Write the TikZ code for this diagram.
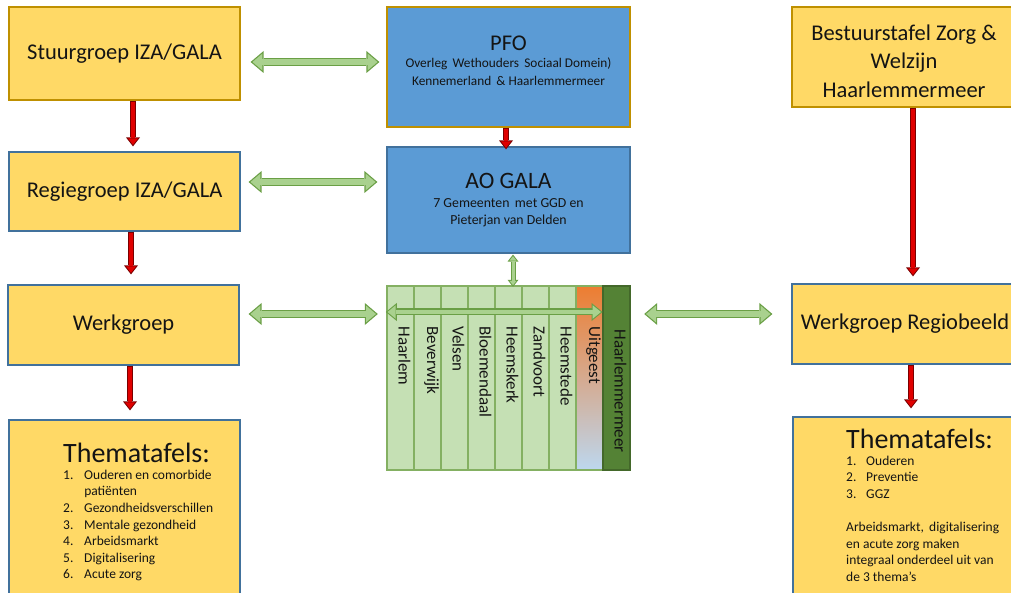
\documentclass[tikz,border=0pt]{standalone}
\usepackage{fontspec}
\setmainfont{Carlito}
\usetikzlibrary{arrows.meta,calc}

\definecolor{boxyellow}{HTML}{FFD966}
\definecolor{boxgold}{HTML}{BF9000}
\definecolor{boxblue}{HTML}{5B9BD5}
\definecolor{edgeblue}{HTML}{41719C}
\definecolor{arrowred}{HTML}{E00000}
\definecolor{arrowdark}{HTML}{7A0000}
\definecolor{greenfill}{HTML}{A9D18E}
\definecolor{greenedge}{HTML}{6A9F45}
\definecolor{townfill}{HTML}{C5E0B4}
\definecolor{townedge}{HTML}{84B062}
\definecolor{meerfill}{HTML}{548235}
\definecolor{orangetop}{HTML}{ED7D31}
\definecolor{mauvemid}{HTML}{CDB8C0}
\definecolor{bluebottom}{HTML}{BDD7EE}
\definecolor{textgrey}{HTML}{141414}

\newcommand{\thematitle}{\fontsize{28}{34}\selectfont}

\tikzset{
	box/.style={rectangle, fill=boxyellow, draw=edgeblue, line width=1.2pt, inner sep=0pt, align=center, text=textgrey, font=\fontsize{22.5}{28.5}\selectfont},
	goldbox/.style={box, draw=boxgold},
	bluebox/.style={box, fill=boxblue},
	listtext/.style={inner sep=0pt, text=textgrey, font=\fontsize{13.5}{16.6}\selectfont},
	town/.style={rectangle, fill=townfill, draw=townedge, line width=1.2pt, minimum width=27, minimum height=184, inner sep=0pt},
	townlabel/.style={rotate=-90, anchor=west, inner sep=0pt, text=textgrey, font=\fontsize{17}{20}\selectfont},
	rout/.style={draw=arrowdark, line width=6pt, -{Triangle[width=14pt,length=9pt,line width=0pt]}},
	rin/.style={draw=arrowred, line width=4pt, -{Triangle[width=9.9pt,length=6.4pt,line width=0pt]}, shorten <=1pt, shorten >=1.6pt},
	gout/.style={draw=greenedge, line width=8pt, {Triangle[width=22pt,length=13pt,line width=0pt]}-{Triangle[width=22pt,length=13pt,line width=0pt]}},
	gin/.style={draw=greenfill, line width=5.6pt, {Triangle[width=16.8pt,length=9.9pt,line width=0pt]}-{Triangle[width=16.8pt,length=9.9pt,line width=0pt]}, shorten <=1.9pt, shorten >=1.9pt},
	gmidout/.style={draw=greenedge, line width=7pt, {Triangle[width=18pt,length=11pt,line width=0pt]}-{Triangle[width=18pt,length=11pt,line width=0pt]}},
	gmidin/.style={draw=greenfill, line width=4.8pt, {Triangle[width=13.4pt,length=8.2pt,line width=0pt]}-{Triangle[width=13.4pt,length=8.2pt,line width=0pt]}, shorten <=1.7pt, shorten >=1.7pt},
	gsout/.style={draw=greenedge, line width=5pt, {Triangle[width=11pt,length=7pt,line width=0pt]}-{Triangle[width=11pt,length=7pt,line width=0pt]}},
	gsin/.style={draw=greenfill, line width=3pt, {Triangle[width=6.9pt,length=4.4pt,line width=0pt]}-{Triangle[width=6.9pt,length=4.4pt,line width=0pt]}, shorten <=1.6pt, shorten >=1.6pt}
}

\begin{document}
\begin{tikzpicture}[x=1pt,y=-1pt]
	\clip (0,0) rectangle (1011,593);
	\fill[white] (0,0) rectangle (1011,593);

	% left column
	\node[goldbox, minimum width=231, minimum height=93] (stuur) at (124.5,53.5) {Stuurgroep IZA/GALA};
	\node[box, minimum width=231, minimum height=79] (regie) at (124.5,191.5) {Regiegroep IZA/GALA};
	\node[box, minimum width=231, minimum height=80] (werk) at (123.5,325) {Werkgroep};
	\node[box, minimum width=231, minimum height=200] (themal) at (124.5,520) {};
	\node[listtext, anchor=north west] (themaltxt) at (63,443) {\begin{tabular}{@{}l@{\hspace{10.8pt}}l@{}}
		\multicolumn{2}{@{}l@{}}{\thematitle Thematafels:}\\
		1. & Ouderen en comorbide\\
		 & patiënten\\
		2. & Gezondheidsverschillen\\
		3. & Mentale gezondheid\\
		4. & Arbeidsmarkt\\
		5. & Digitalisering\\
		6. & Acute zorg
	\end{tabular}};

	% middle column
	\node[bluebox, draw=boxgold, minimum width=243, minimum height=120] (pfo) at (508.5,67) {};
	\node[listtext, align=center, font=\fontsize{13.3}{17.5}\selectfont] (pfotxt) at (508.5,60.5) {{\fontsize{22.5}{26}\selectfont PFO}\\ Overleg\, Wethouders\, Sociaal Domein)\\ Kennemerland\, \& Haarlemmermeer};
	\node[bluebox, minimum width=243, minimum height=106, font=\fontsize{13.8}{16.5}\selectfont] (ao) at (508.5,200) {{\fontsize{23.5}{26}\selectfont AO GALA}\\[3pt] 7 Gemeenten\, met GGD en\\ Pieterjan van Delden};

	\node[minimum width=243, minimum height=184, inner sep=0pt] (muni) at (508.5,378) {};
	\foreach \town [count=\i] in {Haarlem,Beverwijk,Velsen,Bloemendaal,Heemskerk,Zandvoort,Heemstede}{
		\node[town] (col\i) at ({373.5+27*\i},378) {};
		\node[townlabel] at ($(col\i.north)+(4,41)$) {\town};
	}
	\node[town, top color=orangetop, middle color=mauvemid, bottom color=bluebottom, shading angle=0] (uitgeest) at (589.5,378) {};
	\node[townlabel] at ($(uitgeest.north)+(4,41)$) {Uitgeest};
	\node[town, fill=meerfill, draw=meerfill!80!black] (meer) at (616.5,378) {};
	\node[townlabel] at ($(meer.north)+(4,44)$) {Haarlemmermeer};

	% right column
	\node[goldbox, minimum width=224, minimum height=100] (bestuur) at (904,57) {};
	\node[box, draw=none, fill=none] (bestuurtxt) at (904,61) {Bestuurstafel Zorg \&\\ Welzijn\\ Haarlemmermeer};
	\node[box, minimum width=226, minimum height=80] (werkregio) at (905,324) {Werkgroep Regiobeeld};
	\node[box, minimum width=227, minimum height=203] (themar) at (906.5,518.5) {};
	\node[listtext, anchor=north west] (themartxt) at (846,429) {\begin{tabular}{@{}l@{\hspace{9.8pt}}l@{}}
		\multicolumn{2}{@{}l@{}}{\thematitle Thematafels:}\\
		1. & Ouderen\\
		2. & Preventie\\
		3. & GGZ\\
		\multicolumn{2}{@{}l@{}}{}\\
		\multicolumn{2}{@{}l@{}}{Arbeidsmarkt,\, digitalisering}\\
		\multicolumn{2}{@{}l@{}}{en acute zorg maken}\\
		\multicolumn{2}{@{}l@{}}{integraal onderdeel uit van}\\
		\multicolumn{2}{@{}l@{}}{de 3 thema’s}
	\end{tabular}};

	% red arrows
	\draw[rout] ($(stuur.south)+(8.5,0)$) -- ($(regie.north)+(8.5,-5)$);
	\draw[rin] ($(stuur.south)+(8.5,0)$) -- ($(regie.north)+(8.5,-5)$);
	\draw[rout] ($(regie.south)+(6.5,0)$) -- ($(werk.north)+(7.5,-10)$);
	\draw[rin] ($(regie.south)+(6.5,0)$) -- ($(werk.north)+(7.5,-10)$);
	\draw[rout] ($(werk.south)+(6.5,0)$) -- ($(themal.north)+(5.5,-9)$);
	\draw[rin] ($(werk.south)+(6.5,0)$) -- ($(themal.north)+(5.5,-9)$);
	\draw[rout] ($(pfo.south)+(-2.5,0)$) -- ($(ao.north)+(-2.5,3)$);
	\draw[rin] ($(pfo.south)+(-2.5,0)$) -- ($(ao.north)+(-2.5,3)$);
	\draw[rout] ($(bestuur.south)+(9,0)$) -- ($(werkregio.north)+(8,-7)$);
	\draw[rin] ($(bestuur.south)+(9,0)$) -- ($(werkregio.north)+(8,-7)$);
	\draw[rout] ($(werkregio.south)+(6,0)$) -- ($(themar.north)+(4.5,-8)$);
	\draw[rin] ($(werkregio.south)+(6,0)$) -- ($(themar.north)+(4.5,-8)$);

	% green arrows
	\draw[gout] ($(stuur.east)+(10,8.5)$) -- ($(pfo.west)+(-7,-5)$);
	\draw[gin] ($(stuur.east)+(10,8.5)$) -- ($(pfo.west)+(-7,-5)$);
	\draw[gout] ($(regie.east)+(8,-9.5)$) -- ($(ao.west)+(-9,-18)$);
	\draw[gin] ($(regie.east)+(8,-9.5)$) -- ($(ao.west)+(-9,-18)$);
	\draw[gout] ($(werk.east)+(9,-11)$) -- ($(muni.west)+(-9,-64)$);
	\draw[gin] ($(werk.east)+(9,-11)$) -- ($(muni.west)+(-9,-64)$);
	\draw[gout] ($(muni.east)+(14,-64)$) -- ($(werkregio.west)+(-19,-10)$);
	\draw[gin] ($(muni.east)+(14,-64)$) -- ($(werkregio.west)+(-19,-10)$);
	\draw[gsout] ($(ao.south)+(4.5,1)$) -- ($(ao.south |- muni.north)+(4.5,1)$);
	\draw[gsin] ($(ao.south)+(4.5,1)$) -- ($(ao.south |- muni.north)+(4.5,1)$);
	\draw[gmidout] ($(muni.west)+(-1,-66)$) -- ($(uitgeest.east)+(-1,-66)$);
	\draw[gmidin] ($(muni.west)+(-1,-66)$) -- ($(uitgeest.east)+(-1,-66)$);
\end{tikzpicture}
\end{document}
